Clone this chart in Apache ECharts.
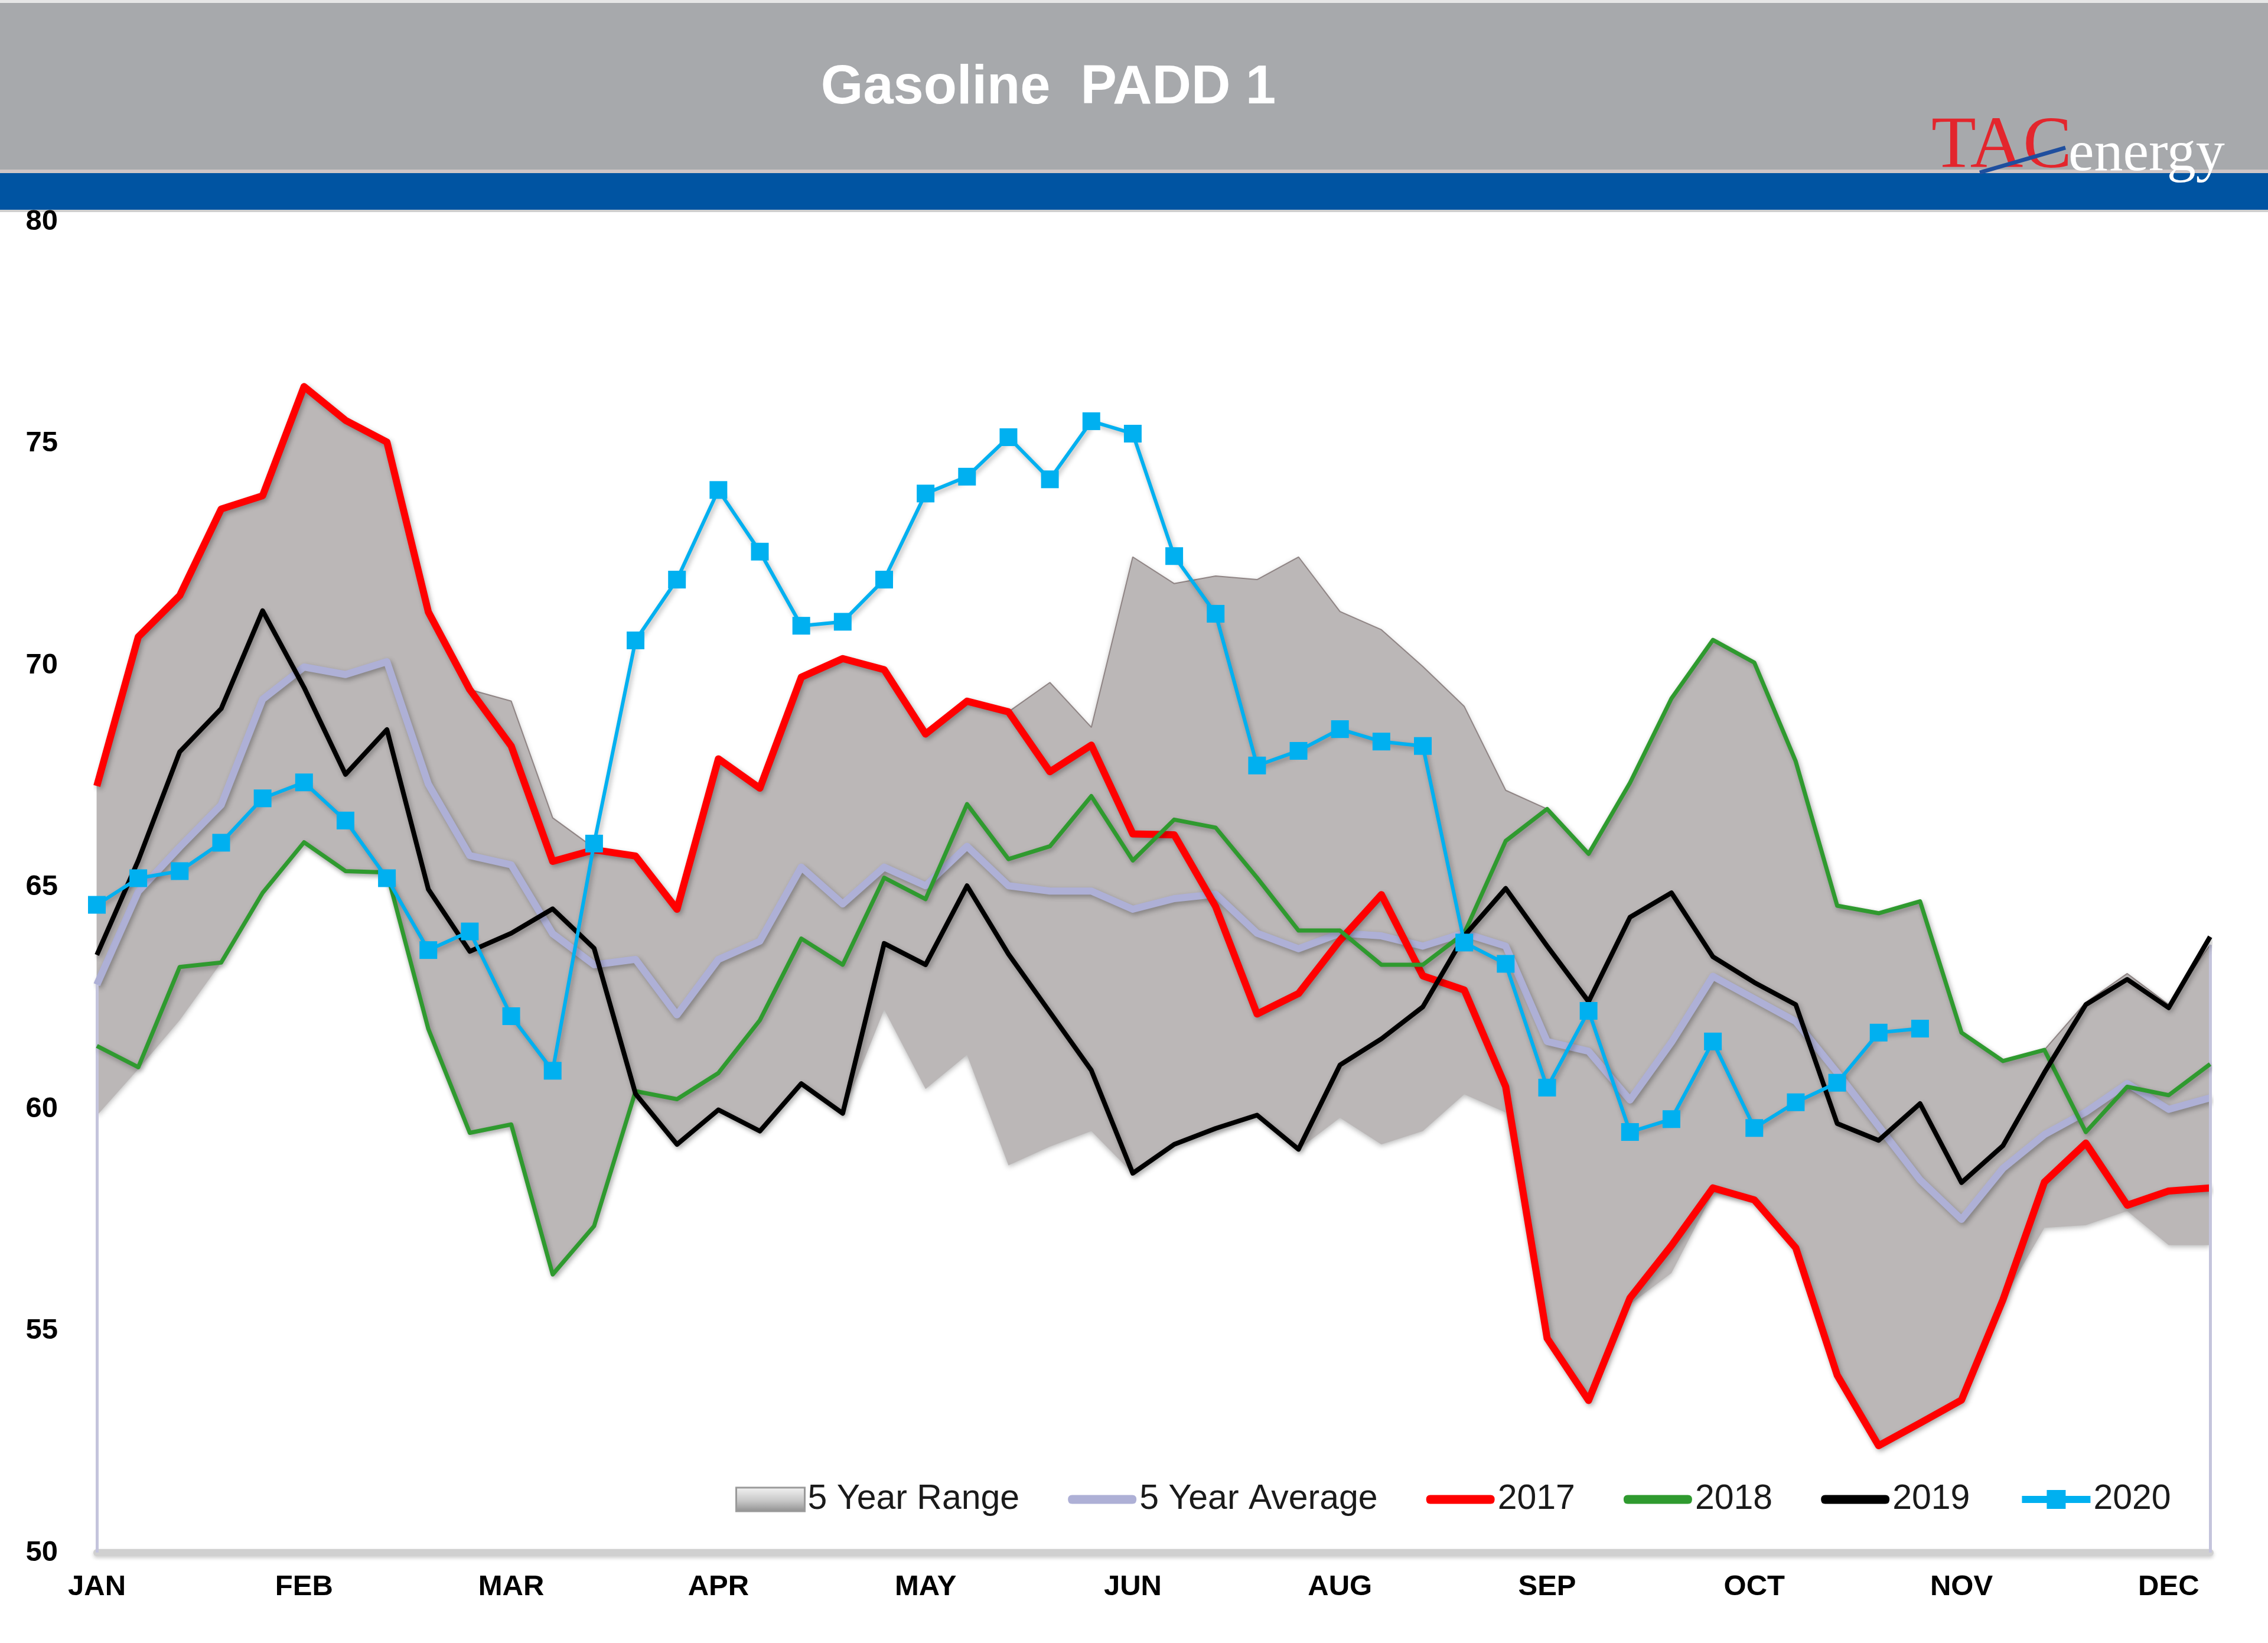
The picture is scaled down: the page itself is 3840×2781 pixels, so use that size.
<!DOCTYPE html>
<html><head><meta charset="utf-8">
<script src="https://cdn.jsdelivr.net/npm/echarts@6/dist/echarts.min.js"></script>
<style>html,body{margin:0;padding:0;background:#fff}#c{width:3840px;height:2781px}</style>
</head><body><div id="c"></div>
<script>
// 52 weekly categories
const weeks = ['1','2','3','4','5','6','7','8','9','10','11','12','13','14','15','16','17','18','19','20','21','22','23','24','25','26',
  '27','28','29','30','31','32','33','34','35','36','37','38','39','40','41','42','43','44','45','46','47','48','49','50','51','52'];
// tick labels shown every 5th week
const monthTicks = ['JAN','FEB','MAR','APR','MAY','JUN','AUG','SEP','OCT','NOV','DEC'];
const yTicks = [50,55,60,65,70,75,80];

const rangeLow = [59.85,60.9,62.0,63.3,64.87,66.01,65.36,65.33,61.8,59.46,59.65,56.27,57.36,60.34,59.2,59.98,59.5,60.57,59.9,62.24,60.45,61.22,58.73,59.15,59.5,58.55,
  59.2,59.5,59.86,59.09,59.8,59.2,59.5,60.33,59.92,54.83,53.43,55.6,56.3,58.1,57.95,56.87,54.0,52.41,52.92,53.44,55.7,57.32,57.38,57.7,56.93,56.93];
const rangeHigh = [67.28,70.64,71.57,73.52,73.82,76.28,75.52,75.03,71.2,69.45,69.19,66.56,65.88,65.7,64.5,67.89,67.23,69.73,70.15,69.9,68.45,69.19,68.95,69.61,68.6,72.44,
  71.84,72.01,71.93,72.44,71.21,70.8,69.97,69.07,67.18,66.76,65.75,67.35,69.25,70.57,70.06,67.83,64.58,64.41,64.68,61.72,61.08,61.33,62.4,63.05,62.35,63.7];
const avg5 = [62.8,64.9,65.9,66.85,69.23,69.96,69.79,70.08,67.32,65.71,65.5,63.95,63.25,63.37,62.12,63.37,63.78,65.45,64.62,65.45,65.03,65.92,65.03,64.91,64.91,64.5,
  64.74,64.84,63.96,63.61,63.96,63.9,63.67,63.96,63.67,61.52,61.3,60.2,61.5,62.99,62.48,61.97,60.82,59.61,58.4,57.51,58.66,59.42,59.93,60.57,59.99,60.25];
const y2017 = [67.28,70.64,71.57,73.52,73.82,76.28,75.52,75.03,71.2,69.45,68.18,65.58,65.84,65.7,64.5,67.89,67.23,69.73,70.15,69.9,68.45,69.19,68.95,67.6,68.2,66.2,
  66.18,64.56,62.14,62.6,63.8,64.83,63.0,62.68,60.5,54.83,53.43,55.74,56.92,58.22,57.95,56.87,54.0,52.41,52.92,53.44,55.7,58.35,59.23,57.83,58.15,58.22];
const y2018 = [61.42,60.94,63.2,63.3,64.87,66.01,65.36,65.33,61.8,59.46,59.65,56.27,57.36,60.4,60.22,60.81,62.0,63.84,63.25,65.21,64.73,66.87,65.63,65.92,67.05,65.6,
  66.52,66.34,65.21,64.02,64.02,63.25,63.25,63.96,66.04,66.76,65.75,67.35,69.25,70.57,70.06,67.83,64.58,64.41,64.68,61.72,61.08,61.33,59.48,60.5,60.31,61.01];
const y2019 = [63.47,65.6,68.05,69.02,71.23,69.5,67.54,68.55,64.95,63.55,63.96,64.51,63.62,60.34,59.2,59.98,59.5,60.57,59.9,63.73,63.25,65.03,63.49,62.18,60.87,58.55,
  59.2,59.56,59.86,59.09,60.99,61.58,62.3,63.9,64.97,63.67,62.42,64.32,64.87,63.43,62.85,62.35,59.67,59.29,60.12,58.34,59.17,60.82,62.35,62.92,62.28,63.88];
const y2020 = [64.6,65.2,65.36,66.0,67.0,67.36,66.5,65.2,63.58,64.0,62.09,60.86,65.98,70.56,71.93,73.95,72.56,70.89,70.98,71.93,73.87,74.25,75.14,74.19,75.5,75.22,
  72.46,71.16,67.74,68.07,68.56,68.28,68.18,63.75,63.27,60.48,62.21,59.48,59.77,61.52,59.57,60.15,60.59,61.72,61.81];

const rangeSpan = rangeHigh.map((v, i) => +(v - rangeLow[i]).toFixed(2));
const FONT = 'Liberation Sans';
const lineShadow = {shadowColor:'rgba(0,0,0,0.3)', shadowBlur:8, shadowOffsetX:3, shadowOffsetY:4};
const barIcon = 'path://M6,0L94,0Q100,0 100,6.5Q100,13 94,13L6,13Q0,13 0,6.5Q0,0 6,0Z';

const chart = echarts.init(document.getElementById('c'), null, {renderer:'canvas'});
chart.setOption({
  animation:false,
  backgroundColor:'#ffffff',
  grid:{left:164, right:98, top:375, bottom:153, containLabel:false},
  xAxis:{
    type:'category', data:weeks, boundaryGap:false,
    axisTick:{show:false},
    axisLine:{lineStyle:{color:'#d0d0d0', width:12, shadowColor:'rgba(0,0,0,0.2)', shadowBlur:6, shadowOffsetY:3}},
    splitLine:{show:false},
    axisLabel:{interval:4, margin:34, fontSize:49, fontWeight:'bold', color:'#000', fontFamily:FONT,
      formatter:(v, i) => (i % 5 === 0 ? monthTicks[i / 5] : '')}
  },
  yAxis:{
    type:'value', min:yTicks[0], max:yTicks[yTicks.length-1], interval:5,
    axisLine:{show:false}, axisTick:{show:false}, splitLine:{show:false},
    axisLabel:{margin:66, fontSize:49, fontWeight:'bold', color:'#000', fontFamily:FONT}
  },
  legend:{
    left:1240, top:2503, itemWidth:116, itemHeight:40, itemGap:82,
    textStyle:{fontFamily:FONT, fontSize:59, color:'#1a1a1a', lineHeight:60},
    data:[
      {name:'5 Year Range', icon:'rect', itemStyle:{color:{type:'linear',x:0,y:0,x2:0,y2:1,colorStops:[{offset:0,color:'#f4f4f4'},{offset:0.55,color:'#c8c8c8'},{offset:1,color:'#8e8e8e'}]}, borderColor:'#9a9a9a', borderWidth:3}},
      {name:'5 Year Average', icon:barIcon, itemStyle:{color:'#aeb0d6'}},
      {name:'2017', icon:barIcon, itemStyle:{color:'#ff0000'}},
      {name:'2018', icon:barIcon, itemStyle:{color:'#2f9a2f'}},
      {name:'2019', icon:barIcon, itemStyle:{color:'#000000'}},
      {name:'2020', lineStyle:{width:12}}
    ]
  },
  graphic:[
    {type:'rect', shape:{x:0,y:0,width:3840,height:5}, style:{fill:'#e6e6e6'}, silent:true},
    {type:'rect', shape:{x:0,y:5,width:3840,height:282}, style:{fill:'#a7a9ac'}, silent:true},
    {type:'rect', shape:{x:0,y:287,width:3840,height:6}, style:{fill:'#cfc6c6'}, silent:true},
    {type:'rect', shape:{x:0,y:293,width:3840,height:62}, style:{fill:'#0054a2'}, silent:true},
    {type:'rect', shape:{x:0,y:355,width:3840,height:4}, style:{fill:'#cfcfcf'}, silent:true},
    {type:'text', x:1775, y:150, silent:true,
      style:{text:'Gasoline  PADD 1', font:'bold 92px "Liberation Sans"', fill:'#ffffff', align:'center', verticalAlign:'middle',
        textAlign:'center', textVerticalAlign:'middle',
        shadowColor:'rgba(40,40,40,0.75)', shadowBlur:6, shadowOffsetX:2, shadowOffsetY:7}},
    {type:'text', x:3270, y:250, silent:true,
      style:{text:'TAC', font:'124px "Liberation Serif"', fill:'#e3262d', verticalAlign:'middle', textVerticalAlign:'middle'}},
    {type:'line', silent:true, shape:{x1:3352,y1:292,x2:3497,y2:250}, style:{stroke:'#1f4f9e', lineWidth:7}},
    {type:'text', x:3502, y:262, silent:true,
      style:{text:'energy', font:'98px "Liberation Serif"', fill:'#ffffff', verticalAlign:'middle', textVerticalAlign:'middle',
        shadowColor:'rgba(30,30,30,0.7)', shadowBlur:5, shadowOffsetX:2, shadowOffsetY:5}}
  ],
  series:[
    {name:'rangeBase', type:'line', stack:'range', data:rangeLow, symbol:'none', silent:true,
      lineStyle:{opacity:0}, areaStyle:{opacity:0}, z:1,
      markLine:{silent:true, symbol:'none', label:{show:false},
        lineStyle:{color:'#c4c4dc', width:5, type:'solid'},
        data:[
          [{coord:[weeks[0], yTicks[0]]},{coord:[weeks[0], avg5[0]]}],
          [{coord:[weeks[51], yTicks[0]]},{coord:[weeks[51], rangeHigh[51]]}]
        ]}},
    {name:'5 Year Range', type:'line', stack:'range', data:rangeSpan, symbol:'none', z:2,
      lineStyle:{color:'#8f8484', width:2},
      itemStyle:{color:'#bbb7b7'},
      areaStyle:{color:'#bbb7b7', opacity:1, shadowColor:'rgba(0,0,0,0.28)', shadowBlur:10, shadowOffsetY:3}},
    {name:'5 Year Average', type:'line', data:avg5, symbol:'none', z:3,
      lineStyle:Object.assign({color:'#aeb0d6', width:12, join:'round'}, lineShadow), itemStyle:{color:'#aeb0d6'}},
    {name:'2017', type:'line', data:y2017, symbol:'none', z:4,
      lineStyle:Object.assign({color:'#ff0000', width:12, join:'round'}, lineShadow), itemStyle:{color:'#ff0000'}},
    {name:'2018', type:'line', data:y2018, symbol:'none', z:5,
      lineStyle:Object.assign({color:'#2f9a2f', width:7, join:'round'}, lineShadow), itemStyle:{color:'#2f9a2f'}},
    {name:'2019', type:'line', data:y2019, symbol:'none', z:6,
      lineStyle:Object.assign({color:'#000000', width:8, join:'round'}, lineShadow), itemStyle:{color:'#000000'}},
    {name:'2020', type:'line', data:y2020, symbol:'rect', symbolSize:30, showAllSymbol:true, z:7,
      lineStyle:Object.assign({color:'#00b0f0', width:6, join:'round'}, lineShadow), itemStyle:{color:'#00b0f0'}}
  ]
});
</script></body></html>
